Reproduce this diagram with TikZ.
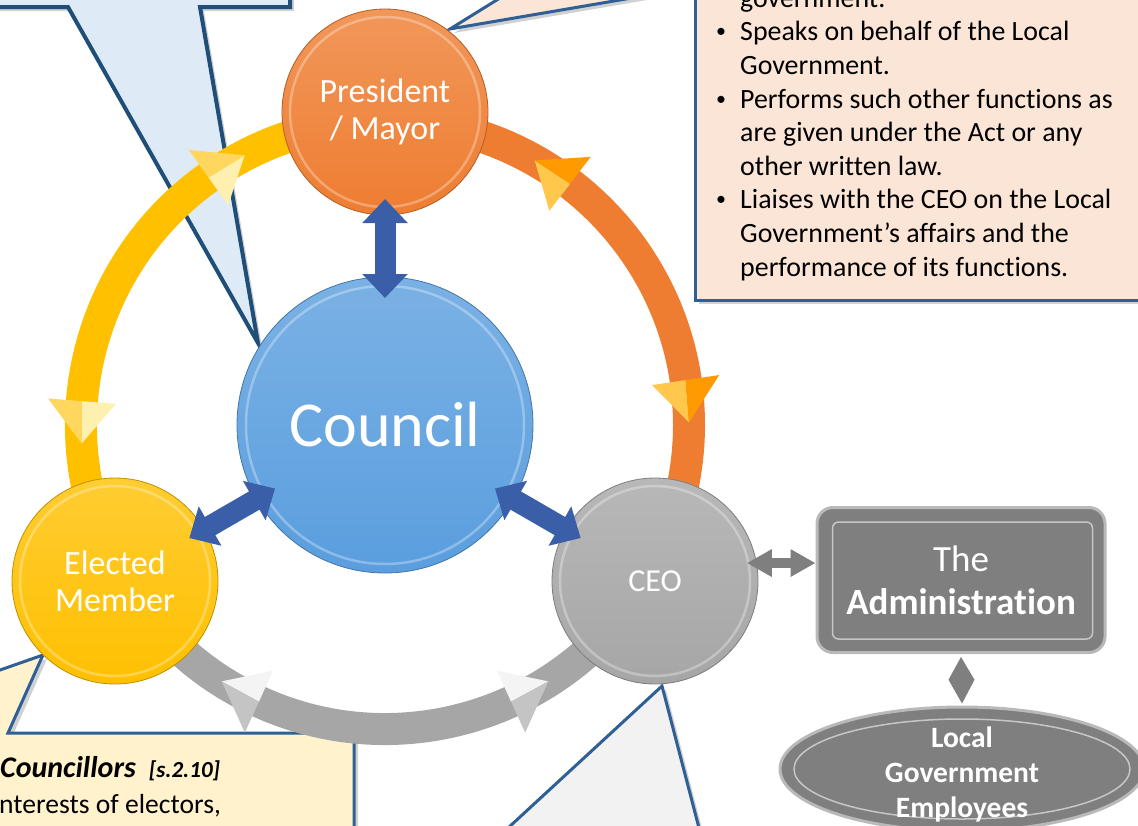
\documentclass[tikz,border=0pt]{standalone}
\usepackage{fontspec}
\setmainfont{Carlito}[Ligatures=NoCommon]
\usetikzlibrary{arrows.meta,calc,shadows,shapes.geometric}

\definecolor{calloutdark}{HTML}{1F4E79}
\definecolor{calloutblue}{HTML}{2E6096}
\definecolor{boxblue}{HTML}{DEEBF7}
\definecolor{boxpeach}{HTML}{FBE5D6}
\definecolor{boxcream}{HTML}{FFF2CC}
\definecolor{boxgrey}{HTML}{F2F2F2}
\definecolor{ringyellow}{HTML}{FFC000}
\definecolor{ringorange}{HTML}{EE7D31}
\definecolor{ringgrey}{HTML}{A6A6A6}
\definecolor{tipyellowlt}{HTML}{FFF0B0}
\definecolor{tipyellowdk}{HTML}{FFD75E}
\definecolor{tiporangelt}{HTML}{FFC84D}
\definecolor{tiporangedk}{HTML}{FF9A00}
\definecolor{tipgreylt}{HTML}{F4F4F4}
\definecolor{tipgreydk}{HTML}{C4C4C4}
\definecolor{councilblue}{HTML}{5A9EDE}
\definecolor{arrowblue}{HTML}{3A5FA8}
\definecolor{admingrey}{HTML}{7F7F7F}

\tikzset{
  callout/.style={draw=calloutblue, line width=3pt,
    drop shadow={shadow xshift=4pt, shadow yshift=-4pt, opacity=0.3, fill=black!60}},
  ball/.style={circle, minimum size=206pt, inner sep=0pt, draw=#1!75!black,
    line width=0.8pt, top color=#1!80!white, bottom color=#1, text=white,
    font=\fontsize{34}{37}\selectfont, align=center},
  rim/.style={draw=white, line width=2.5pt, opacity=0.3},
  linkarrow/.style={arrowblue, line width=21pt,
    {Triangle[width=44pt,length=24pt]}-{Triangle[width=44pt,length=24pt]}},
  greyarrow/.style={admingrey, line width=10pt,
    {Triangle[width=26pt,length=25pt]}-{Triangle[width=26pt,length=25pt]}},
  bul/.style={anchor=base west, inner sep=0pt, font=\fontsize{27.9}{33}\selectfont},
  lbl/.style={anchor=base west, inner sep=0pt, font=\fontsize{27.6}{32}\selectfont},
}

\begin{document}
\begin{tikzpicture}[x=1pt,y=-1pt]
\useasboundingbox (0,0) rectangle (1138,825);
\clip (0,0) rectangle (1138,825);
\coordinate (ctr) at (385,425);

% callouts
\path[callout, draw=calloutdark, line width=4pt, fill=boxblue]
  (-20,-20) -- (290,-20) -- (290,7) -- (200,7) -- (258,343) -- (68,7) -- (-20,7) -- cycle;
\path[callout, fill=boxpeach] (450,29) -- (529,-20) -- (737,-20) -- cycle;
\path[callout, fill=boxpeach] (695,-20) rectangle (1160,300);
\path[callout, fill=boxcream]
  (-20,677) -- (43,655) -- (8,733) -- (354,733) -- (354,850) -- (-20,850) -- cycle;
\path[callout, fill=boxgrey]
  (374,828) -- (508,828) -- (662,686) -- (699,828) -- (1124,828) -- (1124,850) -- (374,850) -- cycle;

% mayor's duties
\foreach \y/\t in {7/government., 40/Speaks on behalf of the Local, 74/Government.,
  108/Performs such other functions as, 141/are given under the Act or any,
  175/other written law., 208/Liaises with the CEO on the Local,
  242/Government’s affairs and the, 276/performance of its functions.}
  \node[bul] (line\y) at (740,\y) {\t};
\foreach \y in {40,108,208}
  \node[bul, font=\fontsize{20}{24}\selectfont] (dot\y) at (716,{\y-3}) {•};

% councillors
\node[lbl, font=\fontsize{30}{34}\selectfont\bfseries\itshape] (cllr) at (0,777)
  {Councillors\hspace{13pt}{\fontsize{23}{26}\selectfont[s.2.10]}};
\node[lbl] (electors) at (-1,813) {nterests of electors,};

% ring
\foreach \a/\b/\c in {150/270/ringyellow, -90/30/ringorange, 30/150/ringgrey}
  \draw[\c, line width=32pt] ($(ctr)+(\a:304)$) arc[start angle=\a, end angle=\b, radius=304];

% arrow heads on the ring
\foreach \a/\s/\c in {238/1/yellow, 181/-1/yellow, -56/-1/orange,
  -5/1/orange, 62/-1/grey, 118/1/grey} {
  \fill[tip\c lt] ($(ctr)+({\a-3.5*(\s)}:270)$) -- ($(ctr)+({\a-3.5*(\s)}:304)$)
    -- ($(ctr)+({\a+4.5*(\s)}:304)$) -- cycle;
  \fill[tip\c dk] ($(ctr)+({\a-3.5*(\s)}:304)$) -- ($(ctr)+({\a-3.5*(\s)}:338)$)
    -- ($(ctr)+({\a+4.5*(\s)}:304)$) -- cycle;
}

% the four roles
\node[ball=ringorange] (pm) at (385,112) {President\\/ Mayor};
\node[ball=councilblue, minimum size=296pt, font=\fontsize{64}{70}\selectfont] (council) at (ctr) {Council};
\node[ball=ringyellow] (em) at (115,581) {Elected\\Member};
\node[ball=ringgrey, font=\fontsize{32}{36}\selectfont] (ceo) at (655,581) {CEO};
\foreach \n/\r in {pm/95, em/95, ceo/95, council/139}
  \draw[rim] (\n.center) circle (\r);

\foreach \n in {pm, em, ceo}
  \draw[linkarrow] ($(council)!127pt!(\n)$) -- ($(council)!226pt!(\n)$);

% administration side
\node[rectangle, rounded corners=16pt, minimum width=288pt, minimum height=145pt,
  fill=admingrey, draw=gray!55, line width=3pt, text=white, align=center,
  font=\fontsize{37}{43}\selectfont] (admin) at (961,580) {The\\\textbf{Administration}};
\draw[gray!45, line width=1.5pt, rounded corners=6pt]
  ($(admin.north west)+(17,16)$) rectangle ($(admin.south east)+(-14,-15)$);

\node[ellipse, minimum width=364pt, minimum height=124pt, fill=admingrey, draw=gray!55,
  line width=3pt] (emp) at (962,769) {};
\draw[gray!45, line width=1.5pt] (emp.center) ellipse [x radius=168, y radius=50];
\node[text=white, align=center, font=\fontsize{29.5}{35}\selectfont\bfseries]
  (emptext) at ($(emp.center)+(0,5)$) {Local\\Government\\Employees};

\draw[greyarrow] ($(ceo.10)+(-10,0)$) -- (ceo.10 -| admin.west);
\coordinate (mid) at ($(admin.south)!0.5!(emp.north)$);
\fill[admingrey] ($(admin.south)+(0,3)$) -- ($(mid)+(13,0)$) -- ($(emp.north)+(0,-2)$)
  -- ($(mid)+(-13,0)$) -- cycle;
\end{tikzpicture}
\end{document}
